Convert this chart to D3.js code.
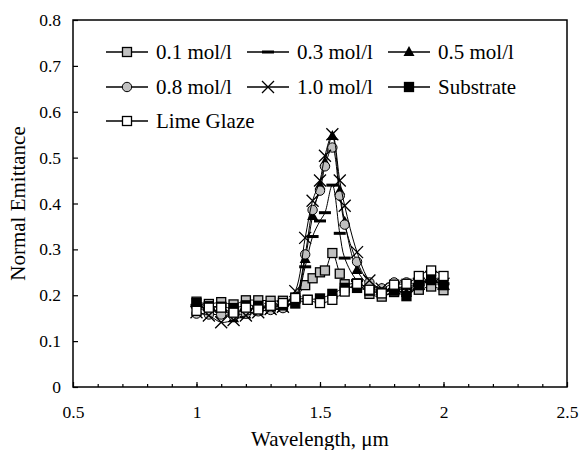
<!DOCTYPE html>
<html>
<head>
<meta charset="utf-8">
<script src="https://cdn.jsdelivr.net/npm/d3@7"></script>
<style>
  body { margin: 0; background: #fff; }
</style>
</head>
<body>
<svg id="chart" width="580" height="450"></svg>
<script>
// wavelengths (um) sampled for the coated samples and for the references
const wlFilm = [1.0, 1.05, 1.1, 1.15, 1.2, 1.25, 1.3, 1.35, 1.4, 1.44, 1.47, 1.5, 1.52, 1.55, 1.58, 1.6, 1.65, 1.7, 1.75, 1.8, 1.85, 1.9, 1.95, 2.0];
const wlRef = [1.0, 1.05, 1.1, 1.15, 1.2, 1.25, 1.3, 1.35, 1.4, 1.45, 1.5, 1.55, 1.6, 1.65, 1.7, 1.75, 1.8, 1.85, 1.9, 1.95, 2.0];

const em01 = [0.186, 0.181, 0.185, 0.180, 0.189, 0.189, 0.188, 0.188, 0.195, 0.222, 0.237, 0.250, 0.254, 0.292, 0.247, 0.224, 0.226, 0.203, 0.197, 0.207, 0.208, 0.212, 0.219, 0.211];
const em03 = [0.178, 0.170, 0.165, 0.162, 0.168, 0.172, 0.175, 0.178, 0.190, 0.262, 0.328, 0.362, 0.380, 0.440, 0.335, 0.281, 0.232, 0.215, 0.210, 0.212, 0.215, 0.222, 0.230, 0.225];
const em05 = [0.180, 0.168, 0.160, 0.150, 0.158, 0.165, 0.168, 0.172, 0.190, 0.279, 0.373, 0.440, 0.490, 0.547, 0.428, 0.360, 0.255, 0.222, 0.214, 0.210, 0.205, 0.220, 0.232, 0.220];
const em08 = [0.160, 0.158, 0.158, 0.155, 0.160, 0.165, 0.168, 0.172, 0.195, 0.289, 0.386, 0.428, 0.481, 0.522, 0.417, 0.354, 0.273, 0.228, 0.215, 0.228, 0.228, 0.225, 0.235, 0.225];
const em10 = [0.163, 0.156, 0.141, 0.146, 0.156, 0.163, 0.170, 0.175, 0.209, 0.325, 0.406, 0.450, 0.504, 0.551, 0.450, 0.395, 0.294, 0.232, 0.214, 0.215, 0.220, 0.225, 0.240, 0.225];
const emSub = [0.183, 0.176, 0.175, 0.172, 0.178, 0.177, 0.176, 0.178, 0.182, 0.190, 0.193, 0.203, 0.216, 0.216, 0.210, 0.206, 0.210, 0.198, 0.222, 0.233, 0.222];
const emLime = [0.166, 0.173, 0.173, 0.162, 0.173, 0.169, 0.177, 0.183, 0.194, 0.190, 0.183, 0.190, 0.208, 0.225, 0.212, 0.204, 0.223, 0.225, 0.242, 0.254, 0.242];

const seriesNames = ["0.1 mol/l", "0.3 mol/l", "0.5 mol/l", "0.8 mol/l", "1.0 mol/l", "Substrate", "Lime Glaze"];
const xTicks = [0.5, 1, 1.5, 2, 2.5];
const yTicks = [0, 0.1, 0.2, 0.3, 0.4, 0.5, 0.6, 0.7, 0.8];

const series = [
  { name: seriesNames[0], x: wlFilm, y: em01, marker: "square", fill: "#c0c0c0" },
  { name: seriesNames[1], x: wlFilm, y: em03, marker: "dash", fill: "#000" },
  { name: seriesNames[2], x: wlFilm, y: em05, marker: "triangle", fill: "#000" },
  { name: seriesNames[3], x: wlFilm, y: em08, marker: "circle", fill: "#c0c0c0" },
  { name: seriesNames[4], x: wlFilm, y: em10, marker: "cross", fill: "none" },
  { name: seriesNames[5], x: wlRef, y: emSub, marker: "square", fill: "#000" },
  { name: seriesNames[6], x: wlRef, y: emLime, marker: "square", fill: "#fff" }
];

const FONT = "Liberation Serif";
const svg = d3.select("#chart");
const margin = { top: 20, right: 13, bottom: 63, left: 73 };
const width = 580, height = 450;

const x = d3.scaleLinear().domain([0.5, 2.5]).range([margin.left, width - margin.right]);
const y = d3.scaleLinear().domain([0, 0.8]).range([height - margin.bottom, margin.top]);

// plot frame
svg.append("rect")
  .attr("x", x(0.5)).attr("y", y(0.8))
  .attr("width", x(2.5) - x(0.5)).attr("height", y(0) - y(0.8))
  .attr("fill", "none").attr("stroke", "#000").attr("stroke-width", 1.5);

// x axis: major ticks every 0.5, minor every 0.1, pointing inward
const xMinor = svg.append("g").attr("transform", `translate(0,${y(0)})`)
  .call(d3.axisBottom(x).tickValues(d3.range(0.6, 2.45, 0.1)).tickSize(-3).tickFormat(""));
xMinor.select(".domain").remove();
const xMajor = svg.append("g").attr("transform", `translate(0,${y(0)})`)
  .call(d3.axisBottom(x).tickValues(xTicks).tickSize(-5).tickPadding(19).tickFormat(d3.format("")));
xMajor.select(".domain").remove();

// y axis
const yAxis = svg.append("g").attr("transform", `translate(${x(0.5)},0)`)
  .call(d3.axisLeft(y).tickValues(yTicks).tickSize(-5).tickPadding(12).tickFormat(d3.format("")));
yAxis.select(".domain").remove();

svg.selectAll(".tick line").attr("stroke", "#000").attr("stroke-width", 1.2);
svg.selectAll(".tick text").attr("font-size", 17.5).attr("fill", "#000");

// axis titles
svg.append("text")
  .attr("x", (x(0.5) + x(2.5)) / 2).attr("y", 446)
  .attr("text-anchor", "middle").attr("font-size", 21)
  .text("Wavelength, \u03bcm");
svg.append("text")
  .attr("transform", `translate(25,${(y(0) + y(0.8)) / 2}) rotate(-90)`)
  .attr("text-anchor", "middle").attr("font-size", 21)
  .text("Normal Emittance");

function drawMarker(g, type, fill) {
  if (type === "square") {
    g.append("rect").attr("x", -4.5).attr("y", -4.5).attr("width", 9).attr("height", 9)
      .attr("fill", fill).attr("stroke", "#000").attr("stroke-width", 1.3);
  } else if (type === "circle") {
    g.append("circle").attr("r", 4.7).attr("fill", fill).attr("stroke", "#000").attr("stroke-width", 1);
  } else if (type === "triangle") {
    g.append("path").attr("d", "M0,-6L5.5,4L-5.5,4Z").attr("fill", "#000");
  } else if (type === "dash") {
    g.append("rect").attr("x", -6).attr("y", -1.5).attr("width", 12).attr("height", 3).attr("fill", "#000");
  } else if (type === "cross") {
    g.append("path").attr("d", "M-6,-6L6,6M-6,6L6,-6").attr("stroke", "#000").attr("stroke-width", 1.3);
  }
}

const line = d3.line().curve(d3.curveCatmullRom).x(d => x(d[0])).y(d => y(d[1]));

series.forEach(s => {
  const pts = s.x.map((v, i) => [v, s.y[i]]);
  const g = svg.append("g");
  g.append("path").datum(pts).attr("d", line)
    .attr("fill", "none").attr("stroke", "#000").attr("stroke-width", 1);
  g.selectAll("g.pt").data(pts).enter().append("g")
    .attr("transform", d => `translate(${x(d[0])},${y(d[1])})`)
    .each(function () { drawMarker(d3.select(this), s.marker, s.fill); });
});

// legend, three columns
const legCols = [106, 247, 388];
const legRows = [52, 87, 121];
series.forEach((s, i) => {
  const lx = legCols[i % 3], ly = legRows[Math.floor(i / 3)];
  const g = svg.append("g").attr("transform", `translate(${lx},${ly})`);
  g.append("line").attr("x1", 0).attr("x2", 42).attr("y1", 0).attr("y2", 0)
    .attr("stroke", "#000").attr("stroke-width", 1.3);
  const m = g.append("g").attr("transform", "translate(21,0)");
  drawMarker(m, s.marker, s.fill);
  g.append("text").attr("x", 50).attr("y", 0).attr("dy", "0.35em")
    .attr("font-size", 21).text(s.name);
});

svg.selectAll("text").attr("font-family", FONT).style("font-family", FONT);
</script>
</body>
</html>
